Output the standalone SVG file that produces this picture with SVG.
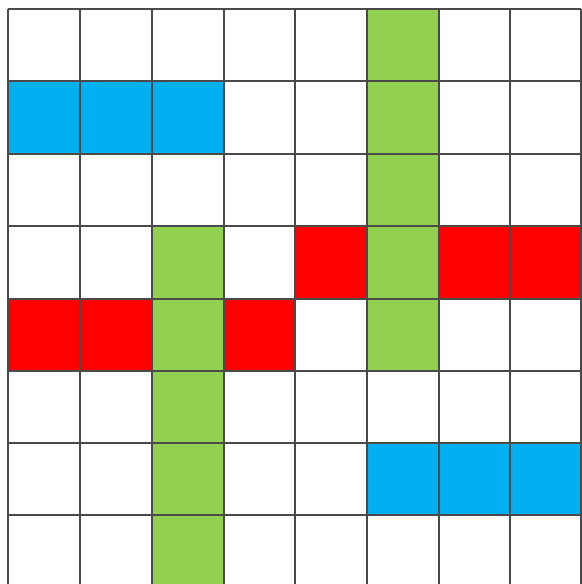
<svg xmlns="http://www.w3.org/2000/svg" width="582" height="584" viewBox="0 0 582 584">
<style>
.g{fill:#92D050}.b{fill:#00B0F0}.r{fill:#FF0000}
.ln{stroke:#4a4a4a;stroke-width:2;fill:none}
</style>
<rect x="0" y="0" width="582" height="584" fill="#ffffff"/>
<g id="cells">
<rect class="g" x="367" y="9" width="72" height="362"/>
<rect class="g" x="152" y="226" width="72" height="360"/>
<rect class="b" x="8" y="81" width="216" height="73"/>
<rect class="b" x="367" y="443" width="214" height="72"/>
<rect class="r" x="295" y="226" width="72" height="73"/>
<rect class="r" x="439" y="226" width="142" height="73"/>
<rect class="r" x="8" y="299" width="144" height="72"/>
<rect class="r" x="224" y="299" width="71" height="72"/>
</g>
<g id="grid" class="ln">
<path d="M8 9V586M80 9V586M152 9V586M224 9V586M295 9V586M367 9V586M439 9V586M510 9V586M581 9V586"/>
<path d="M8 9H581M8 81H581M8 154H581M8 226H581M8 299H581M8 371H581M8 443H581M8 515H581"/>
</g>
</svg>
